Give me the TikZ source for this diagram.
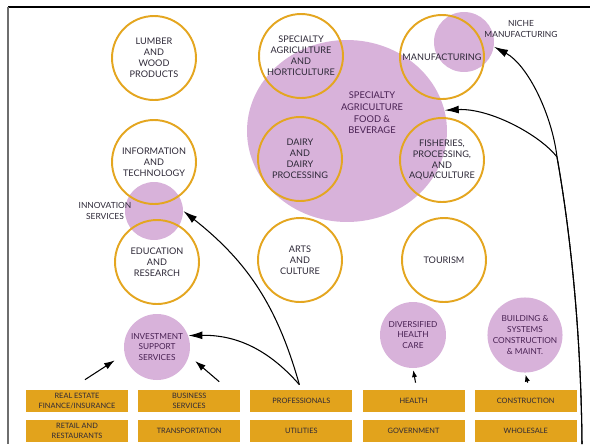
\documentclass[tikz,border=0pt]{standalone}
\usepackage{fontspec}
\setmainfont{Lato}
\usetikzlibrary{shapes, arrows.meta, positioning, calc}

\definecolor{ringgold}{RGB}{228,166,32}
\definecolor{boxgold}{RGB}{226,163,28}
\definecolor{lilac}{RGB}{216,178,218}
\definecolor{inkdark}{RGB}{45,40,55}
\definecolor{plum}{RGB}{72,32,82}
\definecolor{framegray}{RGB}{110,110,110}

\begin{document}
\begin{tikzpicture}[x=0.02cm, y=-0.02cm,
        sector/.style={circle, draw=ringgold, line width=1.1pt, minimum size=1.68cm, inner sep=0pt, align=center, text=inkdark, font=\fontsize{5.2}{6.2}\selectfont},
        blob/.style={fill=lilac, draw=none, inner sep=0pt},
        hub/.style={blob, circle, minimum size=1.32cm, align=center, text=plum, font=\fontsize{4.7}{6.2}\selectfont},
        base/.style={rectangle, fill=boxgold, minimum width=2.04cm, minimum height=0.44cm, inner sep=0pt, align=center, text=inkdark, font=\fontsize{4.2}{6}\selectfont},
        note/.style={align=center, inner sep=0pt, text=inkdark, font=\fontsize{4.8}{5.8}\selectfont},
        arr/.style={-{Latex[length=8pt, width=4.5pt]}, line width=0.6pt},
        short/.style={-{Latex[length=6pt, width=4pt]}, line width=0.6pt},
        tick/.style={-{Latex[length=4pt, width=3pt]}, line width=0.6pt}
    ]
        \useasboundingbox (0,0) rectangle (592,444);

        % Frame
        \draw[line width=1.2pt] (8,7) -- (590,7);
        \draw[framegray, line width=1.2pt] (8,7) -- (8,444);

        % Clusters
        \node[blob, ellipse, minimum width=4cm, minimum height=3.64cm] (food) at (347,131) {};
        \node[blob, circle, minimum size=1.2cm] (niche) at (464,42) {};
        \node[blob, circle, minimum size=1.16cm] (innov) at (154,211) {};

        % Sectors
        \node[sector] (lumber) at (154,58) {LUMBER\\AND\\WOOD\\PRODUCTS};
        \node[sector] (horti) at (301,56) {SPECIALTY\\AGRICULTURE\\AND\\HORTICULTURE};
        \node[sector] (manuf) at (442,57) {MANUFACTURING};
        \node[sector] (infotech) at (154,162) {INFORMATION\\AND\\TECHNOLOGY};
        \node[sector] (dairy) at (300,159) {DAIRY\\AND\\DAIRY\\PROCESSING};
        \node[sector] (fish) at (442,160) {FISHERIES,\\PROCESSING,\\AND\\AQUACULTURE};
        \node[sector] (educ) at (157,262) {EDUCATION\\AND\\RESEARCH};
        \node[sector] (arts) at (300,260) {ARTS\\AND\\CULTURE};
        \node[sector] (tourism) at (444,260) {TOURISM};

        % Cluster labels
        \node[note, text=plum, font=\fontsize{5.3}{6.6}\selectfont] (foodtxt) at (372,113) {SPECIALTY\\AGRICULTURE\\FOOD \&\\BEVERAGE};
        \node[note] (nichetxt) at (521,29) {NICHE\\MANUFACTURING};
        \node[note] (innovtxt) at (105,211) {INNOVATION\\SERVICES};

        % Support hubs
        \node[hub] (invest) at (157,347) {INVESTMENT\\SUPPORT\\SERVICES};
        \node[hub] (healthcare) at (413,335) {DIVERSIFIED\\HEALTH\\CARE};
        \node[hub] (building) at (525,335) {BUILDING \&\\SYSTEMS\\CONSTRUCTION\\\& MAINT.};

        % Base industries
        \node[base] (realestate) at (77,401) {REAL ESTATE\\FINANCE/INSURANCE};
        \node[base, right=0.19cm of realestate] (business) {BUSINESS\\SERVICES};
        \node[base, right=0.19cm of business] (prof) {PROFESSIONALS};
        \node[base, right=0.19cm of prof] (health) {HEALTH};
        \node[base, right=0.19cm of health] (construct) {CONSTRUCTION};
        \node[base, below=0.14cm of realestate] (retail) {RETAIL AND\\RESTAURANTS};
        \node[base, below=0.14cm of business] (transport) {TRANSPORTATION};
        \node[base, below=0.14cm of prof] (utilities) {UTILITIES};
        \node[base, below=0.14cm of health] (govt) {GOVERNMENT};
        \node[base, below=0.14cm of construct] (wholesale) {WHOLESALE};

        % Links
        \draw[short] ([shift={(8,-10)}]realestate.north) -- ([shift={(-11,2)}]invest.200);
        \draw[short] ([shift={(30,-8)}]business.north) -- ([shift={(8,0)}]invest.-25);
        \draw[arr] ([shift={(-2,-5)}]prof.north) to[bend right=18] (innov.east);
        \draw[arr] ([shift={(-2,-5)}]prof.north) to[bend right=25] (invest.20);
        \draw[tick, shorten >=1pt] ([shift={(2,-7)}]health.north) -- (healthcare.south);
        \draw[tick, shorten >=1pt] ([shift={(2,-7)}]construct.north) -- (building.south);

        \coordinate (feed) at (582,444);
        \coordinate (fork) at (557,157);
        \draw[arr] (feed) .. controls (581,330) and (570,230) .. (fork) .. controls (552,115) and (528,65) .. (niche.-9);
        \draw[arr] (feed) .. controls (581,330) and (570,230) .. (fork) .. controls (540,135) and (490,108) .. (food.12);
    \end{tikzpicture}
\end{document}
